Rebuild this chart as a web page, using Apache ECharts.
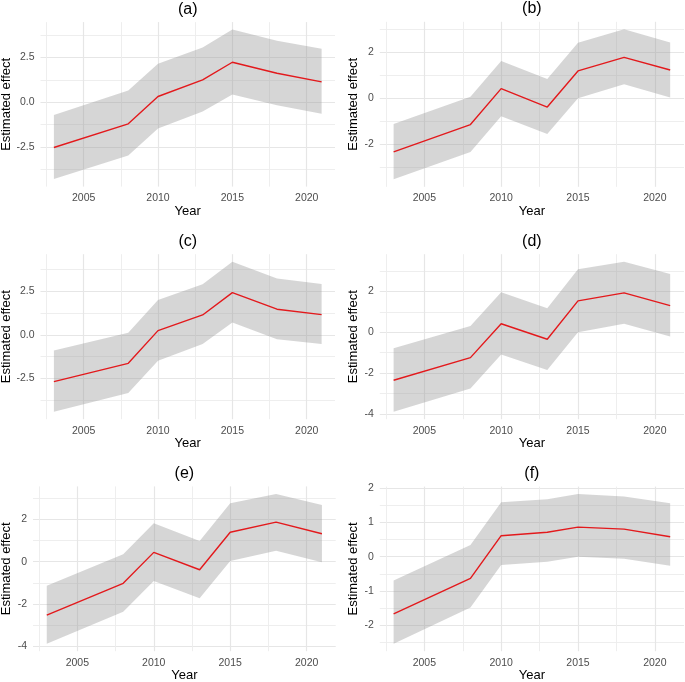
<!DOCTYPE html>
<html>
<head>
<meta charset="utf-8">
<script src="https://cdn.jsdelivr.net/npm/echarts@6/dist/echarts.min.js"></script>
<style>
html,body{margin:0;padding:0;background:#fff;}
#c{width:685px;height:682px;}
</style>
</head>
<body>
<div id="c"></div>
<script>
// ---- data ----
const years = [2003, 2008, 2010, 2013, 2015, 2018, 2021];
const panelLabels = ['(a)', '(b)', '(c)', '(d)', '(e)', '(f)'];

const estA = [-2.54, -1.21, 0.32, 1.25, 2.24, 1.62, 1.14];
const upA  = [-0.71, 0.65, 2.15, 3.06, 4.07, 3.45, 2.99];
const loA  = [-4.31, -2.99, -1.47, -0.52, 0.43, -0.17, -0.65];

const estB = [-2.33, -1.14, 0.42, -0.38, 1.19, 1.78, 1.23];
const upB  = [-1.12, 0.07, 1.62, 0.84, 2.41, 3.00, 2.43];
const loB  = [-3.52, -2.33, -0.78, -1.55, 0.00, 0.61, 0.04];

const estC = [-2.68, -1.63, 0.25, 1.15, 2.43, 1.48, 1.17];
const upC  = [-0.90, 0.13, 2.01, 2.91, 4.21, 3.24, 2.93];
const loC  = [-4.41, -3.33, -1.48, -0.52, 0.71, -0.25, -0.52];

const estD = [-2.35, -1.24, 0.42, -0.34, 1.54, 1.93, 1.31];
const upD  = [-0.78, 0.31, 1.96, 1.18, 3.09, 3.46, 2.86];
const loD  = [-3.89, -2.75, -1.09, -1.85, 0.00, 0.42, -0.20];

const estE = [-2.52, -1.02, 0.44, -0.38, 1.39, 1.87, 1.32];
const upE  = [-1.13, 0.35, 1.81, 0.98, 2.76, 3.20, 2.68];
const loE  = [-3.87, -2.36, -0.91, -1.73, 0.03, 0.52, -0.03];

const estF = [-1.66, -0.63, 0.61, 0.71, 0.86, 0.80, 0.58];
const upF  = [-0.69, 0.34, 1.58, 1.67, 1.82, 1.75, 1.55];
const loF  = [-2.53, -1.48, -0.24, -0.15, 0.00, -0.06, -0.26];

// tick values
const xTicks = [2005, 2010, 2015, 2020];
const xMinor = [2002.5, 2007.5, 2012.5, 2017.5];
const yTicksHalf = [-2.5, 0, 2.5];
const yMinorHalf = [-3.75, -1.25, 1.25, 3.75];
const yTicksB = [-2, 0, 2];
const yTicksDE = [-4, -2, 0, 2];
const yMinorOdd = [-3, -1, 1, 3];
const yTicksF = [-2, -1, 0, 1, 2];
const yMinorF = [-2.5, -1.5, -0.5, 0.5, 1.5];

const panels = [
  {est: estA, up: upA, lo: loA, yt: yTicksHalf, ym: yMinorHalf, dec: 1},
  {est: estB, up: upB, lo: loB, yt: yTicksB, ym: yMinorOdd, dec: 0},
  {est: estC, up: upC, lo: loC, yt: yTicksHalf, ym: yMinorHalf, dec: 1},
  {est: estD, up: upD, lo: loD, yt: yTicksDE, ym: yMinorOdd, dec: 0},
  {est: estE, up: upE, lo: loE, yt: yTicksDE, ym: yMinorOdd, dec: 0},
  {est: estF, up: upF, lo: loF, yt: yTicksF, ym: yMinorF, dec: 0}
];

// ---- layout (plot panel rectangles) ----
const rects = [
  {l: 40.5, t: 22.1, w: 294.5, h: 164.5, yGap: 28},
  {l: 379.8, t: 21.8, w: 304.2, h: 165, yGap: 20},
  {l: 40.5, t: 254.2, w: 294.5, h: 165, yGap: 28},
  {l: 379.8, t: 254.2, w: 304.2, h: 165, yGap: 20},
  {l: 33, t: 486.4, w: 302.7, h: 164.8, yGap: 20},
  {l: 379.8, t: 486.6, w: 304.2, h: 164.6, yGap: 20}
];

const FONT = 'Liberation Sans, Arial, Helvetica, sans-serif';
const gridMajor = {show: true, lineStyle: {color: '#e6e6e6', width: 1.2}};
const gridMinor = {show: true, lineStyle: {color: '#ececec', width: 0.9}};

const xRange = [years[0] - 0.05 * (years[years.length - 1] - years[0]),
                years[years.length - 1] + 0.05 * (years[years.length - 1] - years[0])];

const option = {
  animation: false,
  backgroundColor: '#ffffff',
  title: [], grid: [], xAxis: [], yAxis: [], series: []
};

panels.forEach((p, i) => {
  const r = rects[i];
  const dmax = Math.max(...p.up), dmin = Math.min(...p.lo);
  const ymin = dmin - 0.05 * (dmax - dmin), ymax = dmax + 0.05 * (dmax - dmin);

  option.grid.push({left: r.l, top: r.t, width: r.w, height: r.h, containLabel: false, outerBoundsMode: 'none'});
  option.title.push({
    text: panelLabels[i], left: r.l + r.w / 2, top: r.t - 21, textAlign: 'center', padding: 0,
    textStyle: {fontFamily: FONT, fontSize: 16, fontWeight: 'normal', color: '#000'}
  });

  option.xAxis.push({
    type: 'value', gridIndex: i, min: xRange[0], max: xRange[1], position: 'bottom',
    name: 'Year', nameLocation: 'middle', nameGap: 17,
    nameTextStyle: {fontFamily: FONT, fontSize: 13, color: '#000'},
    axisLine: {show: false}, axisTick: {show: false, customValues: xTicks},
    axisLabel: {customValues: xTicks, fontFamily: FONT, fontSize: 10.5, color: '#4d4d4d', margin: 6,
                formatter: v => String(v)},
    splitLine: gridMajor
  });
  option.xAxis.push({
    type: 'value', gridIndex: i, min: xRange[0], max: xRange[1],
    axisLine: {show: false}, axisTick: {show: false, customValues: xMinor},
    axisLabel: {show: false, customValues: xMinor}, splitLine: gridMinor
  });
  option.yAxis.push({
    type: 'value', gridIndex: i, min: ymin, max: ymax,
    name: 'Estimated effect', nameLocation: 'middle', nameRotate: 90, nameGap: r.yGap,
    nameTextStyle: {fontFamily: FONT, fontSize: 13, color: '#000'},
    axisLine: {show: false}, axisTick: {show: false, customValues: p.yt},
    axisLabel: {customValues: p.yt, fontFamily: FONT, fontSize: 10.5, color: '#4d4d4d', margin: 6,
                formatter: v => p.dec ? v.toFixed(1) : String(Math.round(v))},
    splitLine: gridMajor
  });
  option.yAxis.push({
    type: 'value', gridIndex: i, min: ymin, max: ymax,
    axisLine: {show: false}, axisTick: {show: false, customValues: p.ym},
    axisLabel: {show: false, customValues: p.ym}, splitLine: gridMinor
  });

  const xi = 2 * i, yi = 2 * i;
  // confidence ribbon drawn as one polygon through the axis scales
  option.series.push({
    type: 'custom', xAxisIndex: xi, yAxisIndex: yi, silent: true, z: 2, clip: true,
    data: years.map((y, k) => [y, p.lo[k], p.up[k]]),
    encode: {x: 0, y: [1, 2]},
    renderItem: (params, api) => {
      if (params.dataIndex !== 0) return null;
      const pts = [];
      for (let k = 0; k < years.length; k++) pts.push(api.coord([years[k], p.up[k]]));
      for (let k = years.length - 1; k >= 0; k--) pts.push(api.coord([years[k], p.lo[k]]));
      return {type: 'polygon', shape: {points: pts}, style: {fill: 'rgba(153,153,153,0.4)', stroke: null}};
    }
  });
  option.series.push({
    type: 'line', xAxisIndex: xi, yAxisIndex: yi,
    data: years.map((y, k) => [y, p.est[k]]), symbol: 'none', silent: true,
    lineStyle: {color: '#e3191c', width: 1.4}, z: 3
  });
});

const chart = echarts.init(document.getElementById('c'), null, {renderer: 'canvas'});
chart.setOption(option);
</script>
</body>
</html>
